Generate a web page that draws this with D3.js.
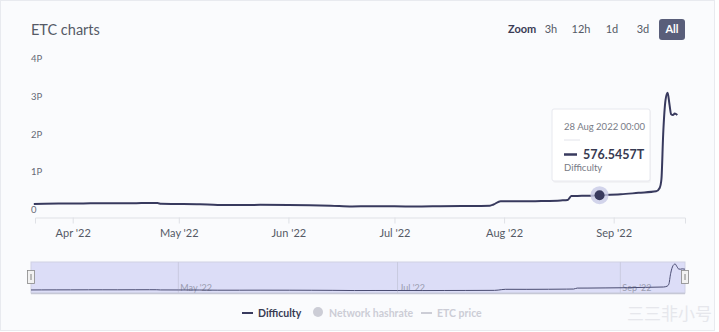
<!DOCTYPE html>
<html>
<head>
<meta charset="utf-8">
<script src="https://cdn.jsdelivr.net/npm/d3@7"></script>
<style>
  html, body { margin: 0; padding: 0; background: #fff; }
  body { width: 719px; height: 332px; overflow: hidden; font-family: Lato, sans-serif; }
  svg text { font-family: Lato, sans-serif; }
</style>
</head>
<body>
<svg id="chart" width="719" height="332"></svg>
<script>
// Difficulty data (dates + values in T)
const dates = [
  "2022-03-21", "2022-03-24", "2022-03-28", "2022-04-01", "2022-04-06", "2022-04-10",
  "2022-04-14", "2022-04-19", "2022-04-23", "2022-04-25", "2022-04-26", "2022-05-01",
  "2022-05-07", "2022-05-12", "2022-05-18", "2022-05-24", "2022-06-01", "2022-06-07",
  "2022-06-13", "2022-06-19", "2022-06-25", "2022-07-01", "2022-07-08", "2022-07-14",
  "2022-07-20", "2022-07-28", "2022-07-29", "2022-07-31", "2022-08-06", "2022-08-12",
  "2022-08-17", "2022-08-19", "2022-08-20", "2022-08-23", "2022-08-28", "2022-09-03",
  "2022-09-08", "2022-09-13", "2022-09-14", "2022-09-14T12:00", "2022-09-15",
  "2022-09-15T16:00", "2022-09-16T06:00", "2022-09-16T18:00", "2022-09-17T06:00",
  "2022-09-17T18:00", "2022-09-18T06:00", "2022-09-19"
];
const difficulty = [
  345, 352, 356, 358, 362, 365,
  362, 367, 372, 370, 348, 345,
  338, 318, 318, 322, 318, 312,
  300, 280, 285, 282, 278, 285,
  290, 300, 330, 420, 415, 425,
  440, 450, 555, 560, 576.5457, 600,
  640, 680, 770, 1000, 2200,
  3100, 3290, 3000, 2720,
  2700, 2740, 2700
];
const yTicks = [0, 1000, 2000, 3000, 4000];
const monthTicks = ["2022-04-01", "2022-05-01", "2022-06-01", "2022-07-01", "2022-08-01", "2022-09-01"];
const navTicks = ["2022-05-01", "2022-07-01", "2022-09-01"];
const zoomButtons = ["3h", "12h", "1d", "3d", "All"];
const legendItems = [
  { name: "Difficulty", kind: "line", active: true },
  { name: "Network hashrate", kind: "dot", active: false },
  { name: "ETC price", kind: "line", active: false }
];
const tooltipDate = "2022-08-28";

const parse = d3.isoParse;
const data = dates.map((d, i) => ({ date: parse(d), value: difficulty[i] }));

const svg = d3.select("#chart");
const lineColor = "#383a5e";

// card background
svg.append("rect").attr("x", 0.5).attr("y", 0.5).attr("width", 714).attr("height", 330)
  .attr("fill", "#fafbfd").attr("stroke", "#e8eaef");

// title
svg.append("text").attr("x", 31).attr("y", 35).attr("font-size", 14.5).attr("fill", "#555a66")
  .text("ETC charts");

// zoom buttons
svg.append("text").attr("x", 508).attr("y", 33).attr("font-size", 11).attr("font-weight", 700)
  .attr("fill", "#3a3c55").text("Zoom");
const btnX = [551, 581, 612, 643, 672];
zoomButtons.forEach((b, i) => {
  if (b === "All") {
    svg.append("rect").attr("x", 659).attr("y", 19).attr("width", 26).attr("height", 21)
      .attr("rx", 3).attr("fill", "#595e7a");
  }
  svg.append("text").attr("x", btnX[i]).attr("y", 33).attr("text-anchor", "middle")
    .attr("font-size", 11).attr("font-weight", b === "All" ? 700 : 400)
    .attr("fill", b === "All" ? "#fff" : "#555a66").text(b);
});

// main plot scales
const x = d3.scaleTime()
  .domain([parse("2022-03-21T08:00"), parse("2022-09-21T04:00")])
  .range([35, 685]);
const y = d3.scaleLinear().domain([0, 4000]).range([217, 66]);

// y labels (no grid lines)
svg.append("g").selectAll("text").data(yTicks).join("text")
  .attr("x", 31).attr("y", d => y(d) - 4).attr("font-size", 9.5).attr("fill", "#666a75")
  .text(d => d === 0 ? "0" : (d / 1000) + "P");

// x axis
const xAxis = svg.append("g").attr("transform", "translate(0,217.5)")
  .call(d3.axisBottom(x).tickValues(monthTicks.map(parse)).tickSize(6)
    .tickFormat(d3.timeFormat("%b '%y")));
xAxis.select(".domain").attr("stroke", "#dfe1e6");
xAxis.selectAll(".tick line").attr("stroke", "#dfe1e6");
xAxis.selectAll(".tick text").attr("font-size", 11).attr("fill", "#555a66").attr("dy", "0.95em")
  .style("font-family", "Lato");

// line
const line = d3.line().x(d => x(d.date)).y(d => y(d.value)).curve(d3.curveMonotoneX);
svg.append("path").datum(data).attr("fill", "none").attr("stroke", lineColor)
  .attr("stroke-width", 2).attr("stroke-linejoin", "round").attr("d", line);

// hover point
const tp = data.find(d => +d.date === +parse(tooltipDate));
svg.append("circle").attr("cx", x(tp.date)).attr("cy", y(tp.value)).attr("r", 9)
  .attr("fill", "#c8cbe6").attr("opacity", 0.8);
svg.append("circle").attr("cx", x(tp.date)).attr("cy", y(tp.value)).attr("r", 5)
  .attr("fill", lineColor);

// tooltip
const tt = svg.append("g").attr("transform", "translate(552,109)");
tt.append("rect").attr("x", 1).attr("y", 1).attr("width", 98).attr("height", 73).attr("rx", 2)
  .attr("fill", "#000").attr("opacity", 0.03);
tt.append("rect").attr("width", 98).attr("height", 72).attr("rx", 2)
  .attr("fill", "#fff").attr("stroke", "#e7e8ee");
tt.append("text").attr("x", 12).attr("y", 21).attr("font-size", 9.5).attr("fill", "#777b86")
  .text(d3.timeFormat("%d %b %Y %H:%M")(tp.date));
tt.append("line").attr("x1", 12).attr("x2", 28).attr("y1", 31).attr("y2", 31)
  .attr("stroke", "#e2e3ea");
tt.append("line").attr("x1", 12).attr("x2", 25).attr("y1", 45.5).attr("y2", 45.5)
  .attr("stroke", lineColor).attr("stroke-width", 2.5);
tt.append("text").attr("x", 31).attr("y", 50).attr("font-size", 12.5).attr("font-weight", 700)
  .attr("fill", "#383a52").text(tp.value.toFixed(4) + "T");
tt.append("text").attr("x", 12).attr("y", 62).attr("font-size", 9.5).attr("fill", "#777b86")
  .text("Difficulty");

// navigator
const nx = d3.scaleTime().domain(d3.extent(data, d => d.date)).range([31, 685]);
const ny = d3.scaleLinear().domain([0, d3.max(difficulty)]).range([293, 264]);
svg.append("rect").attr("x", 31).attr("y", 262).attr("width", 654).attr("height", 31)
  .attr("fill", "#dcddf7").attr("stroke", "#cfd1e4");
const navG = svg.append("g");
navTicks.map(parse).forEach(t => {
  navG.append("line").attr("x1", nx(t)).attr("x2", nx(t)).attr("y1", 262).attr("y2", 293)
    .attr("stroke", "#c9cbe0");
  navG.append("text").attr("x", nx(t) + 2).attr("y", 291).attr("font-size", 9)
    .attr("fill", "#9a9cb0").text(d3.timeFormat("%b '%y")(t));
});
const navLine = d3.line().x(d => nx(d.date)).y(d => ny(d.value)).curve(d3.curveMonotoneX);
svg.append("path").datum(data).attr("fill", "none").attr("stroke", "#4a4c72")
  .attr("stroke-width", 1).attr("d", navLine);
svg.append("line").attr("x1", 31).attr("x2", 685).attr("y1", 293.5).attr("y2", 293.5)
  .attr("stroke", "#c6c8d6").attr("stroke-width", 1.5);
[31, 685].forEach(hx => {
  svg.append("rect").attr("x", hx - 3.5).attr("y", 270.5).attr("width", 7).attr("height", 13)
    .attr("fill", "#f2f2f2").attr("stroke", "#888").attr("stroke-width", 0.8);
  svg.append("line").attr("x1", hx).attr("x2", hx).attr("y1", 274).attr("y2", 280)
    .attr("stroke", "#666").attr("stroke-width", 0.8);
});

// legend
const legX = [242, 313, 421];
legendItems.forEach((it, i) => {
  const c = it.active ? "#383a52" : "#cccdd6";
  const g = svg.append("g").attr("transform", `translate(${legX[i]},313)`);
  if (it.kind === "line") {
    g.append("line").attr("x1", 0).attr("x2", 11).attr("y1", 0).attr("y2", 0)
      .attr("stroke", it.active ? lineColor : "#cccdd6").attr("stroke-width", 2);
    g.append("text").attr("x", 16).attr("y", 4).attr("font-size", 10.5)
      .attr("font-weight", 700).attr("fill", c).text(it.name);
  } else {
    g.append("circle").attr("cx", 5).attr("cy", -1).attr("r", 5).attr("fill", "#cccdd6");
    g.append("text").attr("x", 16).attr("y", 4).attr("font-size", 10.5)
      .attr("font-weight", 700).attr("fill", c).text(it.name);
  }
});

// watermark
svg.append("text").attr("x", 712).attr("y", 320).attr("text-anchor", "end")
  .attr("font-size", 17).attr("fill", "#e6e7ec")
  .style("font-family", "Noto Sans CJK SC").text("三三非小号");
</script>
</body>
</html>
